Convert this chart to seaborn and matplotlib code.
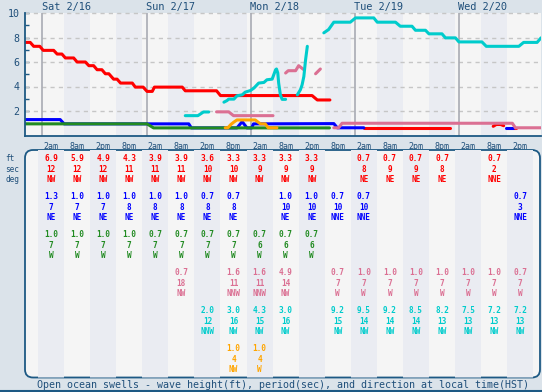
import numpy as np
import pandas as pd
import matplotlib
matplotlib.use('Agg')
import matplotlib.pyplot as plt
import seaborn as sns
from matplotlib.patches import FancyBboxPatch
from matplotlib.lines import Line2D

sns.set_style('white')
plt.rcParams['font.family'] = ['DejaVu Sans Mono', 'DejaVu Sans']

BG = '#dbe3ea'
LIGHT = '#f5f5f5'
DARK = '#eaecf2'
NAVY = '#1d5984'
TXT = '#1f4f7a'

RED, BLUE, GREEN = '#ff0000', '#0000ff', '#228b22'
PINK, CYAN, ORANGE = '#db7093', '#00cccc', '#ffa500'

# time axis in hours from Sat 2/16 00:00 (HST); None = gap in the line
days = ['Sat 2/16', 'Sun 2/17', 'Mon 2/18', 'Tue 2/19', 'Wed 2/20']
day_hours = [0, 24, 48, 72, 96]
col_labels = ['2am', '8am', '2pm', '8pm'] * 4 + ['2am', '8am', '2pm']
col_hours = [2, 8, 14, 20, 26, 32, 38, 44, 50, 56, 62, 68, 74, 80, 86, 92, 98, 104, 110]

red_t = [-3.9, -2.8, -2.0, -0.6, 0.2, 2.6, 3.4, 4.5, 5.3, 7.2, 8.0, 9.9, 10.7, 11.8,
         12.6, 13.7, 14.5, 15.3, 16.4, 17.2, 18.0, 20.7, 21.4, 23.2, 24.1, 25.3, 25.8,
         32.2, 32.9, 40.1, 41.0, 62.1, 63.3, 66.2, None,
         74.0, 93.9, None, 103.8, 104.5, 105.5, 106.2, None, 108.3, 109.0]
red_v = [7.6, 7.6, 7.28, 7.28, 6.95, 6.95, 6.65, 6.65, 6.33, 6.33, 6.0, 6.0, 5.7, 5.7,
         5.37, 5.37, 5.04, 5.04, 4.6, 4.6, 4.28, 4.28, 3.95, 3.95, 3.6, 3.6, 3.95,
         3.95, 3.65, 3.65, 3.26, 3.26, 2.9, 2.9, None,
         0.63, 0.63, None, 0.75, 0.9, 0.9, 0.8, None, 0.63, 0.63]

blue_t = [-3.9, 4.1, 5.0, 33.7, 34.3, 44.8, 46.0, 47.1, 48.2, 48.6, 67.1, 67.9, 74.0,
          None, 106.8, 108.4]
blue_v = [1.3, 1.3, 0.95, 0.95, 0.62, 0.62, 1.13, 0.62, 0.62, 0.95, 0.97, 0.63, 0.63,
          None, 0.63, 0.63]

green_t = [-3.9, 24.1, 25.6, 66.1]
green_v = [0.95, 0.95, 0.62, 0.62]

pink_t = [40.1, 42.9, 44.0, 53.1, None,
          56.0, 56.6, 58.3, 59.0, 60.2, None,
          62.9, 64.0, None,
          67.1, 68.2, 69.0, 108.2, 108.9, 114.8]
pink_v = [1.93, 1.93, 1.62, 1.62, None,
          5.1, 5.29, 5.29, 5.7, 5.37, None,
          5.04, 5.43, None,
          0.63, 0.63, 1.0, 1.0, 0.63, 0.63]

cyan_t = [32.9, 35.8, 37.1, 38.3, None,
          41.8, 42.5, 42.9, 44.1, 44.8, 46.0, 46.7, 47.9, 48.7, 49.8, 51.0, 51.7, 52.9,
          53.7, 53.9, 54.2, 54.4, 54.8, 55.2, 56.0, None,
          58.7, 59.4, 59.8, 60.2, 60.6, 61.0, None,
          64.8, 65.9, 67.1, 70.9, 72.1, 76.3, 77.1, 81.3, 82.4, 85.1, 85.9, 88.2, 89.0,
          92.0, 92.8, 95.1, 95.9, 101.2, 102.2, 109.7, 110.8, 113.9, 114.8]
cyan_v = [1.62, 1.62, 1.92, 1.92, None,
          2.72, 2.85, 2.97, 2.97, 3.24, 3.32, 3.54, 3.67, 3.87, 4.28, 4.33, 4.55, 4.6,
          5.37, 5.43, 5.1, 4.28, 3.32, 2.95, 2.95, None,
          3.32, 3.73, 4.14, 4.82, 6.19, 7.28, None,
          8.38, 8.65, 9.25, 9.25, 9.6, 9.6, 9.25, 9.25, 8.92, 8.92, 8.59, 8.59, 8.3,
          8.3, 7.97, 7.97, 7.64, 7.64, 7.28, 7.28, 7.6, 7.6, 7.97]

orange_t = [42.1, 42.7, 43.4, 44.1, 44.8, 49.0, 50.2, 51.3, 52.0, 54.0]
orange_v = [0.63, 0.63, 0.9, 1.1, 1.27, 1.27, 0.95, 0.95, 0.63, 0.63]

# table: height (ft), period (sec), direction per column
red_ht = ['6.9', '5.9', '4.9', '4.3', '3.9', '3.9', '3.6', '3.3', '3.3', '3.3', '3.3', '',
          '0.7', '0.7', '0.7', '0.7', '', '0.7', '']
red_per = ['12', '12', '12', '11', '11', '11', '10', '10', '9', '9', '9', '',
           '8', '9', '9', '8', '', '2', '']
red_dir = ['NW'] * 11 + ['', 'NE', 'NE', 'NE', 'NE', '', 'NNE', '']

blue_ht = ['1.3', '1.0', '1.0', '1.0', '1.0', '1.0', '0.7', '0.7', '', '1.0', '1.0',
           '0.7', '0.7', '', '', '', '', '', '0.7']
blue_per = ['7', '7', '7', '8', '8', '8', '8', '8', '', '10', '10', '10', '10',
            '', '', '', '', '', '3']
blue_dir = ['NE'] * 8 + ['', 'NE', 'NE', 'NNE', 'NNE', '', '', '', '', '', 'NNE']

green_ht = ['1.0'] * 4 + ['0.7'] * 7 + [''] * 8
green_per = ['7'] * 8 + ['6'] * 3 + [''] * 8
green_dir = ['W'] * 11 + [''] * 8

pink_ht = [''] * 5 + ['0.7', '', '1.6', '1.6', '4.9', '', '0.7', '1.0', '1.0', '1.0',
                      '1.0', '1.0', '1.0', '0.7']
pink_per = [''] * 5 + ['18', '', '11', '11', '14', '', '7', '7', '7', '7', '7', '7', '7', '7']
pink_dir = [''] * 5 + ['NW', '', 'NNW', 'NNW', 'NW', '', 'W', 'W', 'W', 'W', 'W', 'W', 'W', 'W']

cyan_ht = [''] * 6 + ['2.0', '3.0', '4.3', '3.0', '', '9.2', '9.5', '9.2', '8.5', '8.2',
                      '7.5', '7.2', '7.2']
cyan_per = [''] * 6 + ['12', '16', '15', '16', '', '15', '14', '14', '14', '13', '13', '13', '13']
cyan_dir = [''] * 6 + ['NNW', 'NW', 'NW', 'NW', '', 'NW', 'NW', 'NW', 'NW', 'NW', 'NW', 'NW', 'NW']

orange_ht = [''] * 7 + ['1.0', '1.0'] + [''] * 10
orange_per = [''] * 7 + ['4', '4'] + [''] * 10
orange_dir = [''] * 7 + ['NW', 'W'] + [''] * 10

W, H = 542, 392
fig = plt.figure(figsize=(W / 100, H / 100), dpi=100, facecolor=BG)

XMIN, XMAX = -4, 114.8
ax = fig.add_axes([25 / W, 1 - 135.5 / H, 516 / W, 122.5 / H])
ax.set_facecolor(LIGHT)
ax.set_xlim(XMIN, XMAX)
ax.set_ylim(0, 10)

for i, h in enumerate(col_hours):
    if i % 2 == 1:
        ax.axvspan(h - 3, h + 3, color=DARK, lw=0, zorder=0)
for y in [2, 4, 6, 8, 10]:
    ax.axhline(y, color='#c6c6c6', lw=1, ls=(0, (3, 3)), zorder=1, clip_on=False)
for d in day_hours:
    ax.axvline(d, color='#a9abb3', lw=1.2, zorder=1)


def draw(t, v, color):
    df = pd.DataFrame({'t': t, 'v': v}, dtype=float)
    df['seg'] = df['v'].isna().cumsum()
    df = df.dropna()
    sns.lineplot(data=df, x='t', y='v', units='seg', estimator=None, sort=False,
                 color=color, lw=2.2, ax=ax, legend=False, zorder=3)


draw(red_t, red_v, RED)
draw(blue_t, blue_v, BLUE)
draw(green_t, green_v, GREEN)
draw(pink_t, pink_v, PINK)
draw(cyan_t, cyan_v, CYAN)
draw(orange_t, orange_v, ORANGE)

ax.set_xlabel('')
ax.set_ylabel('')
for s in ['top', 'right']:
    ax.spines[s].set_visible(False)
for s in ['left', 'bottom']:
    ax.spines[s].set_color(NAVY)
    ax.spines[s].set_linewidth(1.3)
    ax.spines[s].set_zorder(4)
ax.set_yticks(range(1, 11))
ax.set_yticklabels(['' if k % 2 else str(k) for k in range(1, 11)])
ax.tick_params(axis='y', direction='in', length=3, width=1, color=NAVY,
               labelcolor=TXT, labelsize=7.2, pad=4, left=True)
ax.set_xticks(col_hours)
ax.set_xticklabels(col_labels)
ax.tick_params(axis='x', length=0, labelcolor=TXT, labelsize=6, pad=5)

for d, lab in zip(day_hours, days):
    ax.text(d - 0.2, 1.05, lab, transform=ax.get_xaxis_transform(), ha='left',
            va='center', fontsize=7.4, color=TXT)

# table of swells
tab = fig.add_axes([25 / W, (H - 380) / H, 516 / W, 232 / H])
tab.set_xlim(XMIN, XMAX)
tab.set_ylim(380, 148)
tab.axis('off')

frame = FancyBboxPatch((0.25, (H - 377.5) / 100), 5.15, 2.275,
                       boxstyle='round,pad=0,rounding_size=0.08',
                       transform=fig.dpi_scale_trans, facecolor=LIGHT,
                       edgecolor=NAVY, lw=1.3, zorder=0)
tab.add_patch(frame)
frame.set_clip_on(False)
for i, h in enumerate(col_hours):
    if i % 2 == 0:
        band = tab.axvspan(h - 3, h + 3, color=DARK, lw=0, zorder=0.5)
        band.set_clip_path(frame)

groups = [
    (RED, red_ht, red_per, red_dir),
    (BLUE, blue_ht, blue_per, blue_dir),
    (GREEN, green_ht, green_per, green_dir),
    (PINK, pink_ht, pink_per, pink_dir),
    (CYAN, cyan_ht, cyan_per, cyan_dir),
    (ORANGE, orange_ht, orange_per, orange_dir),
]
for g, (c, hts, pers, dirs) in enumerate(groups):
    y0 = 158.3 + 38 * g
    for h, a, b, dr in zip(col_hours, hts, pers, dirs):
        for k, s in enumerate([a, b, dr]):
            if s:
                tab.text(h, y0 + [0, 10.8, 21.3][k], s, ha='center', va='center',
                         fontsize=5.6, color=c, fontweight='bold', zorder=3)

for k, lab in enumerate(['ft', 'sec', 'deg']):
    fig.text(5 / W, 1 - [158.3, 169.1, 179.6][k] / H, lab, ha='left', va='center',
             fontsize=5.6, color=TXT)

fig.text(283 / W, 1 - 384.5 / H,
         'Open ocean swells - wave height(ft), period(sec), and direction at local time(HST)',
         ha='center', va='center', fontsize=7.2, color=TXT)
fig.add_artist(Line2D([0, 1], [1.2 / H, 1.2 / H], transform=fig.transFigure,
                      color=NAVY, lw=1.5))

fig.savefig('out.png', dpi=100, facecolor=BG)
